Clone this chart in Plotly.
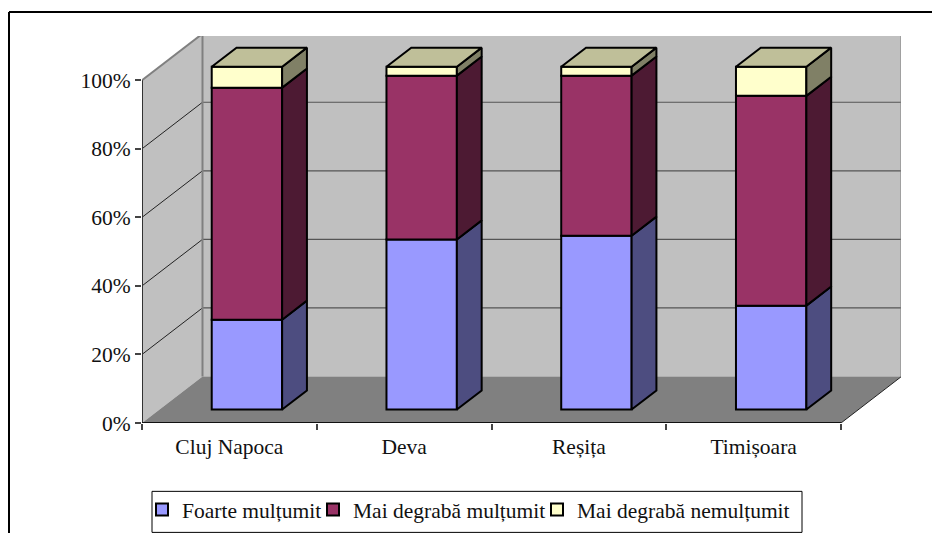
import plotly.graph_objects as go

# ---- data (percent of respondents) ----
cities = ["Cluj Napoca", "Deva", "Reșița", "Timișoara"]
foarte = [26.2, 49.6, 50.7, 30.3]
mai_multumit = [67.7, 47.8, 46.7, 61.2]
mai_nemultumit = [6.1, 2.6, 2.6, 8.5]
series_names = ["Foarte mulțumit", "Mai degrabă mulțumit", "Mai degrabă nemulțumit"]
y_ticks = [0, 20, 40, 60, 80, 100]
y_labels = ["0%", "20%", "40%", "60%", "80%", "100%"]

# ---- styling ----
FRONT = ["#9999FF", "#993366", "#FFFFCC"]
SIDE = ["#4D4D80", "#4D1A33", "#808066"]
TOP = "#BFBF99"
WALL = "#C0C0C0"
FLOOR = "#808080"
FONT = "Liberation Serif"
FS = 21.5
INK = "#111111"

W, H = 932, 533
L, R, T, B = 142, 31, 36, 110.3
CAT_PX = 174.75
PCT_PX = 3.425
DX = 60.5 / CAT_PX       # chart depth projected on x (categories)
DY = 46.5 / PCT_PX       # chart depth projected on y (percent)
Z0, Z1 = 0.29, 0.70      # depth span of the columns
BAR_W = 70.4 / CAT_PX
XMIN = -0.5
XMAX = XMIN + (W - R - L) / CAT_PX
YMAX = (H - T - B) / PCT_PX
XRIGHT = XMIN + len(cities)
LEGEND_LEFT = [142, 313, 537]   # pixel start of each legend entry
LEGEND_TOP = 489


def px(x, y):
    return (x - L) / (W - L - R), (H - B - y) / (H - T - B)


def polygon(pts):
    return "M" + "L".join(f"{a},{b}" for a, b in pts) + "Z"


fig = go.Figure()
shapes = []


def wall(pts, color):
    shapes.append(dict(type="path", path=polygon(pts), fillcolor=color, line=dict(width=0), layer="below"))


def seg(x0, y0, x1, y1, color, width):
    shapes.append(dict(type="line", x0=x0, y0=y0, x1=x1, y1=y1, line=dict(color=color, width=width), layer="below"))


# walls and floor
wall([(XMIN + DX, DY), (XRIGHT + DX, DY), (XRIGHT + DX, 100 + DY), (XMIN + DX, 100 + DY)], WALL)
wall([(XMIN, 0), (XMIN + DX, DY), (XMIN + DX, 100 + DY), (XMIN, 100)], WALL)
wall([(XMIN, 0), (XRIGHT, 0), (XRIGHT + DX, DY), (XMIN + DX, DY)], FLOOR)
for v in y_ticks[1:-1]:
    seg(XMIN, v, XMIN + DX, v + DY, "#222222", 1)
    seg(XMIN + DX, v + DY, XRIGHT + DX, v + DY, "#555555", 1.2)
seg(XMIN, 100, XMIN + DX, 100 + DY, "#808080", 2)
seg(XMIN + DX, 100 + DY, XRIGHT + DX, 100 + DY, "#808080", 2)
seg(XMIN + DX, DY, XMIN + DX, 100 + DY, "#808080", 2)
seg(XRIGHT + DX, DY, XRIGHT + DX, 100 + DY, "#808080", 2)
seg(XRIGHT, 0, XRIGHT + DX, DY, "#222222", 1)
seg(XMIN, 0, XMIN, 100, "#333333", 2)
seg(XMIN, 0, XRIGHT, 0, "#111111", 2)

# outer chart frame (only top and left are visible in the reference)
fx0, fy0 = px(9, 12)
fx1, fy1 = px(932, 533)
shapes.append(dict(type="line", xref="paper", yref="paper", x0=fx0, y0=fy0, x1=fx1, y1=fy0,
                   line=dict(color="black", width=2)))
shapes.append(dict(type="line", xref="paper", yref="paper", x0=fx0, y0=fy0, x1=fx0, y1=fy1,
                   line=dict(color="black", width=2)))
# legend box
bx0, by0 = px(152, 491)
bx1, by1 = px(802, 532)
shapes.append(dict(type="rect", xref="paper", yref="paper", x0=bx0, y0=by0, x1=bx1, y1=by1,
                   fillcolor="white", line=dict(color="black", width=1)))

# project the columns
x_front = [i + Z0 * DX for i in range(len(cities))]
y_front = Z0 * DY
dx_bar = (Z1 - Z0) * DX
dy_bar = (Z1 - Z0) * DY

bottoms = [0.0] * len(cities)
layers = []
legend_ids = ["legend", "legend2", "legend3"]
for k, vals in enumerate([foarte, mai_multumit, mai_nemultumit]):
    base = [b + y_front for b in bottoms]
    layers.append((k, vals, list(bottoms)))
    fig.add_trace(go.Bar(
        x=x_front, y=vals, base=base, width=BAR_W, name=series_names[k],
        marker=dict(color=FRONT[k], line=dict(color="black", width=2)),
        hoverinfo="skip", legend=legend_ids[k], showlegend=True,
    ))
    bottoms = [b + v for b, v in zip(bottoms, vals)]

LINE = dict(color="black", width=2)
for k, vals, bot in layers:
    for i, (v, b) in enumerate(zip(vals, bot)):
        xr = x_front[i] + BAR_W / 2
        y0 = b + y_front
        y1 = y0 + v
        fig.add_trace(go.Scatter(
            x=[xr, xr + dx_bar, xr + dx_bar, xr, xr],
            y=[y0, y0 + dy_bar, y1 + dy_bar, y1, y0],
            mode="lines", fill="toself", fillcolor=SIDE[k], line=LINE,
            showlegend=False, hoverinfo="skip",
        ))
for i, total in enumerate(bottoms):
    xl = x_front[i] - BAR_W / 2
    xr = x_front[i] + BAR_W / 2
    y1 = total + y_front
    fig.add_trace(go.Scatter(
        x=[xl, xr, xr + dx_bar, xl + dx_bar, xl],
        y=[y1, y1, y1 + dy_bar, y1 + dy_bar, y1],
        mode="lines", fill="toself", fillcolor=TOP, line=LINE,
        showlegend=False, hoverinfo="skip",
    ))

legends = {}
for k, name in enumerate(legend_ids):
    legends[name] = dict(
        orientation="h", xref="container", yref="container",
        x=LEGEND_LEFT[k] / W, y=1 - LEGEND_TOP / H, xanchor="left", yanchor="top",
        bgcolor="rgba(0,0,0,0)", borderwidth=0,
        font=dict(family=FONT, size=FS, color=INK), itemwidth=30,
    )

fig.update_layout(
    width=W, height=H,
    margin=dict(l=L, r=R, t=T, b=B, pad=0),
    paper_bgcolor="white", plot_bgcolor="white",
    barmode="overlay",
    showlegend=True,
    font=dict(family=FONT, size=FS, color=INK),
    shapes=shapes,
    xaxis=dict(
        range=[XMIN, XMAX], showgrid=False, zeroline=False, showline=False,
        tickmode="array", tickvals=list(range(len(cities))), ticktext=cities,
        ticks="", ticklabelstandoff=8, automargin=False,
        minor=dict(tickmode="array", tickvals=[XMIN + i for i in range(len(cities) + 1)],
                   ticks="outside", ticklen=6, tickwidth=1.5, tickcolor="#444444", showgrid=False),
    ),
    yaxis=dict(
        range=[0, YMAX], showgrid=False, zeroline=False, showline=False,
        tickmode="array", tickvals=y_ticks, ticktext=y_labels, automargin=False,
        ticks="outside", ticklen=6, tickwidth=1.5, tickcolor="#444444",
    ),
    **legends,
)
fig.write_html("out.html", post_script="document.body.style.margin='0';",
               config={"displayModeBar": False})
